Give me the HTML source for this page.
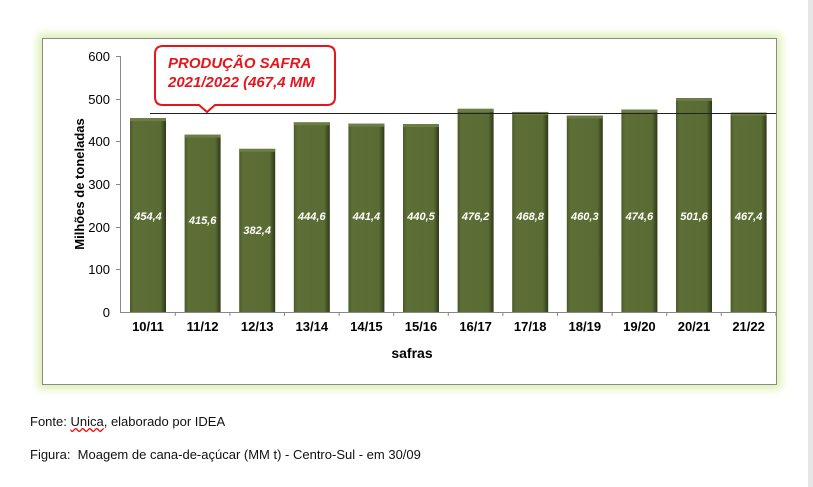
<!DOCTYPE html>
<html><head><meta charset="utf-8"><style>
body{margin:0;width:813px;height:487px;background:#fff;position:relative;overflow:hidden;font-family:"Liberation Sans",sans-serif}
.frame{position:absolute;left:42px;top:38px;width:733px;height:345px;border:1px solid #8a8a8a;background:#fff;box-shadow:0 0 8px 4px #dcefb0}
.edge{position:absolute;left:808px;top:0;width:5px;height:487px;background:#e6e6e6}
.t{position:absolute;font-size:13px;color:#111}
</style></head><body>
<div class="edge"></div>
<div class="frame"></div>
<svg width="813" height="487" style="position:absolute;left:0;top:0" font-family="Liberation Sans, sans-serif">
<defs>
<linearGradient id="g" x1="0" x2="1" y1="0" y2="0">
<stop offset="0" stop-color="#4a5a28"/><stop offset="0.1" stop-color="#5d6e36"/><stop offset="0.85" stop-color="#5a6b33"/><stop offset="1" stop-color="#2e3819"/>
</linearGradient>
</defs>
<g stroke="#888" stroke-width="1">
<line x1="120.5" y1="56" x2="120.5" y2="312"/>
<line x1="120" y1="312.5" x2="776" y2="312.5"/>
</g>
<g font-size="13" text-anchor="end" fill="#000">
<text x="110" y="61">600</text><text x="110" y="104">500</text><text x="110" y="146">400</text><text x="110" y="189">300</text><text x="110" y="232">200</text><text x="110" y="274">100</text><text x="110" y="317">0</text>
</g>
<g stroke="#888"><line x1="116" y1="56.5" x2="120" y2="56.5"/><line x1="116" y1="99.5" x2="120" y2="99.5"/><line x1="116" y1="141.5" x2="120" y2="141.5"/><line x1="116" y1="184.5" x2="120" y2="184.5"/><line x1="116" y1="227.5" x2="120" y2="227.5"/><line x1="116" y1="269.5" x2="120" y2="269.5"/></g>
<text transform="translate(84,184) rotate(-90)" font-size="13" font-weight="bold" text-anchor="middle">Milhões de toneladas</text>
<text x="412" y="358" font-size="14" font-weight="bold" text-anchor="middle">safras</text>
<g id="bars"></g>
<line x1="150" y1="113.5" x2="776" y2="113.5" stroke="#222" stroke-width="1"/>
<path d="M163,46 H327 Q335,46 335,54 V97 Q335,105 327,105 H215 L207,112 L199,105 H163 Q155,105 155,97 V54 Q155,46 163,46 Z" fill="#fff" stroke="#e8141c" stroke-width="2"/>
<text x="168" y="68" font-size="15" font-weight="bold" font-style="italic" fill="#e8141c">PRODUÇÃO SAFRA</text>
<text x="168" y="87" font-size="15" font-weight="bold" font-style="italic" fill="#e8141c">2021/2022 (467,4 MM</text>
</svg>
<script>
var v=[454.4,415.6,382.4,444.6,441.4,440.5,476.2,468.8,460.3,474.6,501.6,467.4],l=["10/11","11/12","12/13","13/14","14/15","15/16","16/17","17/18","18/19","19/20","20/21","21/22"];
var s="";for(var i=0;i<12;i++){var cx=148+i*54.6,h=v[i]*256/600,y=312-h;
s+='<rect x="'+(cx-18)+'" y="'+y+'" width="36" height="'+h+'" fill="url(#g)"/>';
s+='<rect x="'+(cx-18)+'" y="'+y+'" width="36" height="3" fill="#6e7d45"/>';
s+='<text x="'+cx+'" y="'+(220+ (i==1?4:i==2?14:0))+'" font-size="11" font-weight="bold" font-style="italic" fill="#fff" text-anchor="middle">'+String(v[i]).replace(".",",")+'</text>';
s+='<text x="'+cx+'" y="331" font-size="13" font-weight="bold" text-anchor="middle">'+l[i]+'</text>';
s+='<line x1="'+(cx+27.3)+'" y1="312" x2="'+(cx+27.3)+'" y2="316" stroke="#888"/>';}
document.getElementById("bars").innerHTML=s;
</script>
<div class="t" style="left:30px;top:414px">Fonte: <span style="text-decoration:underline wavy red">Unica</span>, elaborado por IDEA</div>
<div class="t" style="left:30px;top:447px">Figura:&nbsp; Moagem de cana-de-açúcar (MM t) - Centro-Sul - em 30/09</div>
</body></html>
